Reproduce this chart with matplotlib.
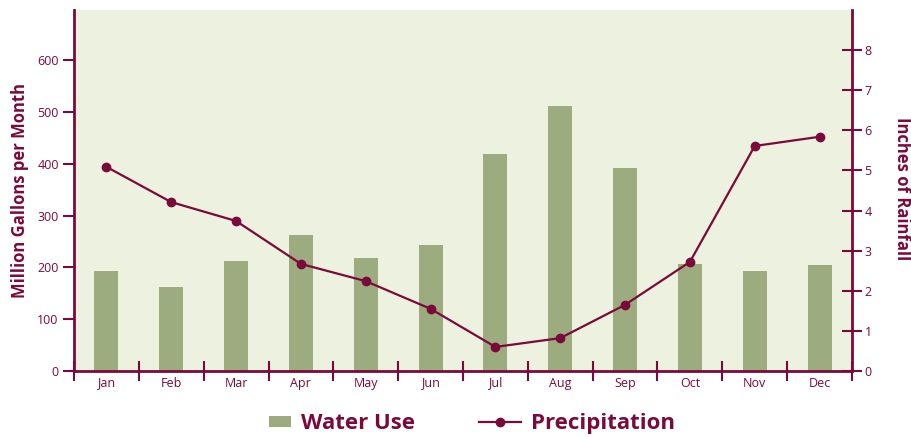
import matplotlib
matplotlib.use("Agg")
import matplotlib.pyplot as plt
from matplotlib.patches import Patch, Rectangle
from matplotlib.lines import Line2D
from matplotlib.legend_handler import HandlerPatch
import numpy as np

months = ["Jan", "Feb", "Mar", "Apr", "May", "Jun", "Jul", "Aug", "Sep", "Oct", "Nov", "Dec"]
water_use = [193, 162, 212, 262, 218, 243, 419, 512, 392, 207, 193, 205]
precip = [5.09, 4.21, 3.74, 2.67, 2.24, 1.55, 0.60, 0.82, 1.65, 2.72, 5.61, 5.84]
left_ticks = [0, 100, 200, 300, 400, 500, 600]
right_ticks = [0, 1, 2, 3, 4, 5, 6, 7, 8]

MAROON = "#7A0A3B"
BAR = "#9DAC7E"
BG = "#EDF1DF"
plt.rcParams['font.family'] = ['Open Sans', 'DejaVu Sans']

fig = plt.figure(figsize=(9.11, 4.37), dpi=100)
ax = fig.add_axes([74/911, 1-371/437, (852-74)/911, (371-10)/437])
ax.set_facecolor(BG)
x = np.arange(len(months))
ax.bar(x, water_use, width=0.37, color=BAR, zorder=2)
ax.set_xlim(-0.5, 11.5)
ax.set_ylim(0, 697)
ax.set_yticks(left_ticks)
ax.set_xticks(np.arange(-0.5, 12.0, 1.0))
ax.set_xticklabels([])
ax.set_xticks(x, minor=True)
ax.set_xticklabels(months, minor=True)
ax.tick_params(axis='x', which='major', direction='inout', length=14, width=1.5, color=MAROON)
ax.tick_params(axis='x', which='minor', length=0, pad=4, labelsize=9, labelcolor=MAROON)
ax.tick_params(axis='y', which='major', direction='out', length=8, width=1.5, color=MAROON,
               labelsize=9, labelcolor=MAROON, pad=3)
for s in ['top', 'right']:
    ax.spines[s].set_visible(False)
for s in ['left', 'bottom']:
    ax.spines[s].set_color(MAROON)
    ax.spines[s].set_linewidth(2)
ax.set_ylabel("Million Gallons per Month", color=MAROON, fontsize=12, fontweight='bold', labelpad=6)

ax2 = ax.twinx()
ax2.plot(x, precip, color=MAROON, lw=1.6, marker='o', markersize=6, zorder=3)
ax2.set_ylim(0, 9.0)
ax2.set_yticks(right_ticks)
ax2.tick_params(axis='y', direction='inout', length=14, width=1.5, color=MAROON,
                labelsize=9, labelcolor=MAROON, pad=2)
for s in ['top', 'left', 'bottom']:
    ax2.spines[s].set_visible(False)
ax2.spines['right'].set_color(MAROON)
ax2.spines['right'].set_linewidth(2)
fig.text(902/911, 1-189/437, "Inches of Rainfall", color=MAROON, fontsize=12,
         fontweight='bold', rotation=270, ha='center', va='center')


def small_patch(legend, orig_handle, xdescent, ydescent, width, height, fontsize):
    w = width * 0.52
    h = height * 0.75
    return Rectangle((-xdescent + width - w, -ydescent + (height - h) / 2), w, h)


handles = [Patch(facecolor=BAR, edgecolor='none'),
           Line2D([0], [0], color=MAROON, lw=1.6, marker='o', markersize=6)]
leg = fig.legend(handles, ["Water Use", "Precipitation"], loc='center', ncol=2,
                 bbox_to_anchor=(0.507, 0.030), frameon=False, fontsize=16,
                 handlelength=1.9, handleheight=0.6, columnspacing=2.85, handletextpad=0.45,
                 handler_map={Patch: HandlerPatch(patch_func=small_patch)})
for t in leg.get_texts():
    t.set_color(MAROON)
    t.set_fontweight('bold')

fig.savefig("out.png", dpi=100)
